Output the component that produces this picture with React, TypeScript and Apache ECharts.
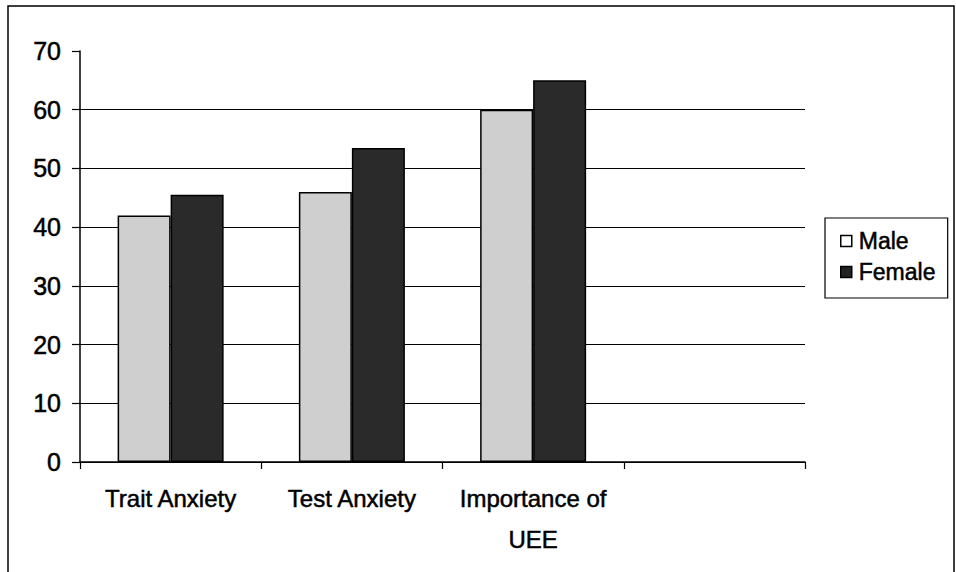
import React, { useEffect, useRef } from "react";
import * as echarts from "echarts";

const categories = ["Trait Anxiety", "Test Anxiety", "Importance of\nUEE", ""];
const maleValues = [42, 46, 60, null];
const femaleValues = [45.5, 53.5, 65, null];
const yTicks = { min: 0, max: 70, interval: 10 };

export default function App() {
  const ref = useRef<HTMLDivElement>(null);
  useEffect(() => {
    if (!ref.current) return;
    const chart = echarts.init(ref.current, null, { renderer: "svg" });
    const font = "'Liberation Sans', Arial, sans-serif";
    const heavy = { textBorderColor: "#000", textBorderWidth: 0.5 };
    chart.setOption({
      animation: false,
      backgroundColor: "#ffffff",
      textStyle: { fontFamily: font, color: "#000" },
      graphic: [
        {
          type: "rect",
          shape: { x: 8, y: 6, width: 946, height: 570 },
          style: { fill: "none", stroke: "#000", lineWidth: 1.5 },
          silent: true,
        },
      ],
      grid: { left: 80, right: 151, top: 51, bottom: 110, containLabel: false },
      legend: {
        orient: "vertical",
        left: 825,
        top: 218,
        padding: [11, 12, 14, 15],
        itemGap: 7,
        itemWidth: 11,
        itemHeight: 11,
        icon: "rect",
        borderColor: "#000",
        borderWidth: 1.2,
        textStyle: { fontFamily: font, fontSize: 23, lineHeight: 24, color: "#000", padding: [0, 0, 0, 2], ...heavy },
        data: [
          { name: "Male", itemStyle: { color: "#fff", borderColor: "#000", borderWidth: 1.5 } },
          { name: "Female", itemStyle: { color: "#222", borderColor: "#000", borderWidth: 1.5 } },
        ],
      },
      xAxis: {
        type: "category",
        data: categories,
        axisLine: { show: true, lineStyle: { color: "#000", width: 1.5 } },
        axisTick: { show: true, length: 7, interval: 0, lineStyle: { color: "#000", width: 1.2 } },
        axisLabel: {
          interval: 0,
          margin: 16,
          fontFamily: font,
          fontSize: 24,
          lineHeight: 41,
          color: "#000",
          align: "center",
          ...heavy,
        },
        splitLine: { show: false },
      },
      yAxis: {
        type: "value",
        min: yTicks.min,
        max: yTicks.max,
        interval: yTicks.interval,
        axisLine: { show: true, lineStyle: { color: "#000", width: 1.5 } },
        axisTick: { show: true, length: 8, lineStyle: { color: "#000", width: 1.2 } },
        axisLabel: { margin: 19, fontFamily: font, fontSize: 25, color: "#000", ...heavy },
        splitLine: {
          show: true,
          lineStyle: {
            color: ["#000", "#000", "#000", "#000", "#000", "#000", "#000", "rgba(0,0,0,0)"],
            width: 1.2,
          },
        },
      },
      series: [
        {
          name: "Male",
          type: "bar",
          data: maleValues,
          barWidth: 53,
          barGap: "0%",
          itemStyle: { color: "#cfcfcf", borderColor: "#000", borderWidth: 1.5 },
        },
        {
          name: "Female",
          type: "bar",
          data: femaleValues,
          barWidth: 53,
          barGap: "0%",
          itemStyle: { color: "#2a2a2a", borderColor: "#000", borderWidth: 1.5 },
        },
      ],
    });
    return () => chart.dispose();
  }, []);
  return (
    <div
      ref={ref}
      style={{ position: "fixed", left: 0, top: 0, width: 956, height: 572 }}
    />
  );
}
